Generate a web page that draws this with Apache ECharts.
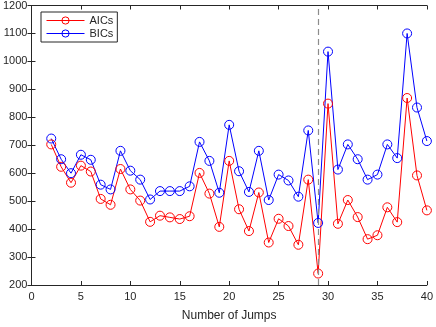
<!DOCTYPE html>
<html>
<head>
<meta charset="utf-8">
<script src="https://cdn.jsdelivr.net/npm/echarts@6/dist/echarts.min.js"></script>
<style>
  html, body { margin: 0; padding: 0; background: #fff; }
  #chart { width: 436px; height: 327px; }
</style>
</head>
<body>
<div id="chart"></div>
<script>
// jumps 2..40
var jumps = [2,3,4,5,6,7,8,9,10,11,12,13,14,15,16,17,18,19,20,21,22,23,24,25,26,27,28,29,30,31,32,33,34,35,36,37,38,39,40];
var aics = [703,623,566,627,606,508,487,615,542,502,426,448,442,436,446,601,527,408,644,471,393,531,352,437,411,344,577,241,849,419,504,443,364,378,478,425,869,592,467];
var bics = [724,650,600,666,648,559,542,680,609,577,506,536,536,536,553,712,644,530,773,607,533,680,504,595,574,516,753,422,1035,613,703,650,577,595,703,654,1100,835,715];
var markX = 29;

var fontFam = '"Liberation Sans", Arial, sans-serif';
var axisCol = '#262626';

function pairs(ys) {
  return jumps.map(function (x, i) { return [x, ys[i]]; });
}

var chart = echarts.init(document.getElementById('chart'));

var xBase = {
  type: 'value', min: 0, max: 40, interval: 5,
  axisLine: { show: true, onZero: false, lineStyle: { color: axisCol, width: 1 } },
  axisTick: { show: true, inside: true, length: 4, lineStyle: { color: axisCol } },
  splitLine: { show: false }
};
var yBase = {
  type: 'value', min: 200, max: 1200, interval: 100,
  axisLine: { show: true, lineStyle: { color: axisCol, width: 1 } },
  axisTick: { show: true, inside: true, length: 4, lineStyle: { color: axisCol } },
  splitLine: { show: false }
};

function ser(name, ys, col) {
  return {
    name: name, type: 'line', xAxisIndex: 0, yAxisIndex: 0,
    data: pairs(ys),
    symbol: 'circle', symbolSize: 9,
    lineStyle: { color: col, width: 1 },
    itemStyle: { color: 'rgba(0,0,0,0)', borderColor: col, borderWidth: 1 },
    emphasis: { disabled: true },
    z: 3
  };
}

var aicSeries = ser('AICs', aics, '#ff0000');
var bicSeries = ser('BICs', bics, '#0000ff');
bicSeries.markLine = {
  silent: true, symbol: 'none', label: { show: false },
  lineStyle: { color: '#8c8c8c', type: [6, 4], width: 1.2 },
  data: [{ xAxis: markX }]
};

chart.setOption({
  animation: false,
  grid: { left: 31, right: 7, top: 5, bottom: 37, containLabel: false },
  legend: {
    orient: 'vertical',
    left: 41, top: 12,
    padding: [3, 4, 3, 5],
    itemGap: 2,
    itemWidth: 38, itemHeight: 9,
    backgroundColor: '#fff',
    borderColor: axisCol, borderWidth: 1, borderRadius: 0,
    itemStyle: { borderWidth: 1 },
    lineStyle: { width: 1 },
    textStyle: { fontFamily: fontFam, fontSize: 11, color: axisCol },
    data: ['AICs', 'BICs']
  },
  xAxis: [
    Object.assign({}, xBase, {
      position: 'bottom',
      name: 'Number of Jumps', nameLocation: 'middle', nameGap: 25,
      nameTextStyle: { fontFamily: fontFam, fontSize: 12, color: axisCol },
      axisLabel: { fontFamily: fontFam, fontSize: 11, color: axisCol, margin: 6 }
    }),
    Object.assign({}, xBase, { position: 'top', axisLabel: { show: false } })
  ],
  yAxis: [
    Object.assign({}, yBase, {
      position: 'left',
      axisLabel: { fontFamily: fontFam, fontSize: 11, color: axisCol, margin: 4,
        formatter: function (v) { return String(v); } }
    }),
    Object.assign({}, yBase, { position: 'right', axisLabel: { show: false } })
  ],
  series: [aicSeries, bicSeries]
});
</script>
</body>
</html>
